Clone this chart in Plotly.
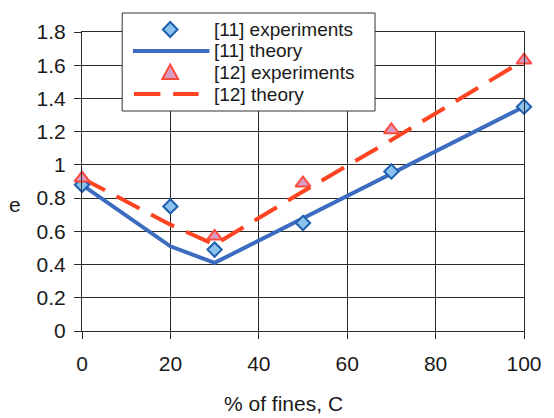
import plotly.graph_objects as go

# Void ratio e versus percentage of fines C
fines_exp11 = [0, 20, 30, 50, 70, 100]
e_exp11 = [0.88, 0.75, 0.49, 0.65, 0.96, 1.35]

fines_th11 = [0, 20, 30, 50, 70, 100]
e_th11 = [0.88, 0.51, 0.41, 0.68, 0.95, 1.35]

fines_exp12 = [0, 30, 50, 70, 100]
e_exp12 = [0.92, 0.57, 0.89, 1.21, 1.63]

fines_th12 = [0, 20, 30, 50, 70, 100]
e_th12 = [0.92, 0.64, 0.52, 0.84, 1.15, 1.63]

legend_labels = ["[11] experiments", "[11] theory", "[12] experiments", "[12] theory"]

FONT = "Liberation Sans, Arial, sans-serif"
TXT = "#1a1a1a"
GRID = "#2a2a2a"
BLUE_LINE = "#3b6cc0"
BLUE_FILL = "#8cc2ee"
BLUE_EDGE = "#1f5fb0"
RED_LINE = "#ff4422"
RED_FILL = "#d89cc4"
RED_EDGE = "#ff4a3a"

W, H = 554, 418
ML, MR, MT, MB = 82, 21, 32, 87
PW, PH = W - ML - MR, H - MT - MB


def px(x):
    return (x - ML) / PW


def py(y):
    return (H - MB - y) / PH


fig = go.Figure()

fig.add_trace(go.Scatter(x=fines_th11, y=e_th11, mode="lines",
                         line=dict(color=BLUE_LINE, width=4), showlegend=False))
fig.add_trace(go.Scatter(x=fines_th12, y=e_th12, mode="lines",
                         line=dict(color=RED_LINE, width=4, dash="26px,13px"),
                         showlegend=False))
fig.add_trace(go.Scatter(x=fines_exp11, y=e_exp11, mode="markers",
                         marker=dict(symbol="diamond", size=11, color=BLUE_FILL,
                                     line=dict(color=BLUE_EDGE, width=2)),
                         showlegend=False, cliponaxis=False))
fig.add_trace(go.Scatter(x=fines_exp12, y=e_exp12, mode="markers",
                         marker=dict(symbol="triangle-up", size=13, color=RED_FILL,
                                     line=dict(color=RED_EDGE, width=2)),
                         showlegend=False, cliponaxis=False))

# Legend box drawn by hand
shapes = []
annotations = []
bx0, bx1, by0, by1 = 123, 381, 13, 111
shapes.append(dict(type="rect", xref="paper", yref="paper",
                   x0=px(bx0), x1=px(bx1), y0=py(by1), y1=py(by0),
                   fillcolor="white", line=dict(color="#333333", width=1),
                   layer="above"))
rows = [29.5, 51, 72.5, 94]
mx = 172
# diamond glyph
h = 7.5
cy = rows[0]
shapes.append(dict(type="path", xref="paper", yref="paper",
                   path=f"M {px(mx)},{py(cy - h)} L {px(mx + h)},{py(cy)} "
                        f"L {px(mx)},{py(cy + h)} L {px(mx - h)},{py(cy)} Z",
                   fillcolor=BLUE_FILL, line=dict(color=BLUE_EDGE, width=2),
                   layer="above"))
# solid line glyph
shapes.append(dict(type="line", xref="paper", yref="paper",
                   x0=px(134), x1=px(212), y0=py(rows[1]), y1=py(rows[1]),
                   line=dict(color=BLUE_LINE, width=4), layer="above"))
# triangle glyph
cy = rows[2]
shapes.append(dict(type="path", xref="paper", yref="paper",
                   path=f"M {px(mx)},{py(cy - 8)} L {px(mx + 8)},{py(cy + 6.5)} "
                        f"L {px(mx - 8)},{py(cy + 6.5)} Z",
                   fillcolor=RED_FILL, line=dict(color=RED_EDGE, width=2),
                   layer="above"))
# dashed line glyph
for a, b in [(135, 162), (175, 201)]:
    shapes.append(dict(type="line", xref="paper", yref="paper",
                       x0=px(a), x1=px(b), y0=py(rows[3]), y1=py(rows[3]),
                       line=dict(color=RED_LINE, width=4), layer="above"))

for label, r in zip(legend_labels, rows):
    annotations.append(dict(text=label, xref="paper", yref="paper",
                            x=px(216), y=py(r), xanchor="left", yanchor="middle",
                            showarrow=False, borderpad=0,
                            font=dict(family=FONT, size=19, color=TXT)))

# axis titles
annotations.append(dict(text="e", xref="paper", yref="paper", x=px(14), y=py(204),
                        xanchor="center", yanchor="middle", showarrow=False,
                        font=dict(family=FONT, size=21, color=TXT)))
annotations.append(dict(text="% of fines, C", xref="paper", yref="paper",
                        x=px(287.5), y=py(403), xanchor="center", yanchor="middle",
                        showarrow=False, font=dict(family=FONT, size=21, color=TXT)))

fig.update_layout(
    width=W, height=H,
    margin=dict(l=ML, r=MR, t=MT, b=MB),
    paper_bgcolor="white", plot_bgcolor="white",
    font=dict(family=FONT, size=21, color=TXT),
    shapes=shapes, annotations=annotations,
    showlegend=False,
)
fig.update_xaxes(range=[0, 100], tick0=0, dtick=20, showgrid=True,
                 gridcolor=GRID, gridwidth=1, showline=True, mirror=True,
                 linecolor=GRID, linewidth=1, ticks="outside", ticklen=7,
                 tickcolor=GRID, zeroline=False, fixedrange=True,
                 ticklabelstandoff=7)
fig.update_yaxes(range=[0, 1.8], tick0=0, dtick=0.2, showgrid=True,
                 gridcolor=GRID, gridwidth=1, showline=True, mirror=True,
                 linecolor=GRID, linewidth=1, ticks="outside", ticklen=7,
                 tickcolor=GRID, zeroline=False, fixedrange=True,
                 ticklabelstandoff=4)

fig.write_html("out.html")
